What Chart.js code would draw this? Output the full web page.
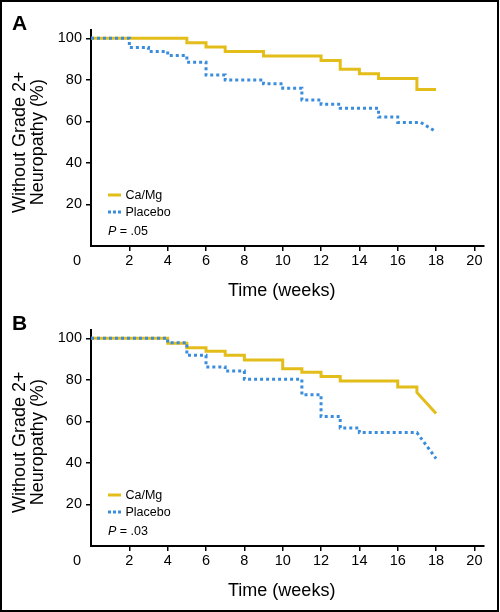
<!DOCTYPE html>
<html><head><meta charset="utf-8">
<script src="https://cdn.jsdelivr.net/npm/chart.js@4/dist/chart.umd.min.js"></script>
<style>
html,body{margin:0;padding:0;background:#fff;}
#wrap{position:relative;width:500px;height:612px;overflow:hidden;background:#fff;}
canvas{position:absolute;left:0;}
#frame{position:absolute;left:0;top:0;width:499px;height:612px;box-sizing:border-box;border:2px solid #000;pointer-events:none;}
</style></head><body>
<div id="wrap">
<canvas id="cA" width="500" height="300" style="top:0;width:500px;height:300px"></canvas>
<canvas id="cB" width="500" height="300" style="top:300px;width:500px;height:300px"></canvas>
<div id="frame"></div>
</div>
<script>
// ---- data ----
const xTicks = [2,4,6,8,10,12,14,16,18,20];
const yTicks = [20,40,60,80,100];
const seriesNames = ['Ca/Mg','Placebo'];
const panelLabels = ['A','B'];
const pValues = ['.05','.03'];

// Panel A
const caMgA_weeks = [0,5,6,7,9,12,13,14,15,17];
const caMgA_pct   = [100,97.9,95.8,93.6,91.5,89.3,85.1,82.9,80.6,75.3];
const caMgA_endWeeks = [18];
const caMgA_endPct   = [75.3];
const placeboA_weeks = [0,2,3,4,5,6,7,9,10,11,12,13,15,16];
const placeboA_pct   = [100,95.6,93.6,91.7,88.5,82.3,79.9,78.1,76.0,70.3,68.3,66.3,62.1,59.5];
const placeboA_endWeeks = [17.2,18];
const placeboA_endPct   = [59.5,55.0];

// Panel B
const caMgB_weeks = [0,4,5,6,7,8,10,11,12,13,16,17];
const caMgB_pct   = [100,97.6,95.5,93.8,91.8,89.6,85.4,83.7,81.6,79.5,76.6,73.9];
const caMgB_endWeeks = [18];
const caMgB_endPct   = [63.8];
const placeboB_weeks = [0,4,5,6,7,8,11,12,13,14];
const placeboB_pct   = [100,97.9,91.8,86.2,84.2,80.3,72.8,62.3,56.8,54.6];
const placeboB_endWeeks = [17,18];
const placeboB_endPct   = [54.6,42.1];

// ---- styling ----
const YELLOW = '#e3bd1a';
const BLUE = '#3a8ddd';
const FONT = '"Liberation Sans", Arial, Helvetica, sans-serif';
const TICK_SIZE = 14.5;

function kmPoints(weeks, pct, endWeeks, endPct){
  const pts = [];
  for (let i = 0; i < weeks.length; i++){
    if (i > 0) pts.push({x: weeks[i], y: pct[i-1]});
    pts.push({x: weeks[i], y: pct[i]});
  }
  for (let j = 0; j < endWeeks.length; j++) pts.push({x: endWeeks[j], y: endPct[j]});
  return pts;
}

function makeDecor(letter, pText){
  return {
    id: 'decor',
    afterDraw(chart){
      const ctx = chart.ctx;
      const xs = chart.scales.x, ys = chart.scales.y;
      const ca = chart.chartArea;
      ctx.save();
      ctx.fillStyle = '#000';
      // panel letter
      ctx.font = 'bold 21px ' + FONT;
      ctx.textAlign = 'left'; ctx.textBaseline = 'alphabetic';
      ctx.fillText(letter, 12, 30);
      // shared origin "0"
      ctx.font = TICK_SIZE + 'px ' + FONT;
      ctx.textAlign = 'center'; ctx.textBaseline = 'middle';
      ctx.fillText('0', xs.getPixelForValue(0) - 14, xs.top + 5 + 1 + TICK_SIZE*1.2/2);
      // x title
      ctx.font = '18px ' + FONT;
      ctx.textAlign = 'center'; ctx.textBaseline = 'alphabetic';
      ctx.fillText('Time (weeks)', xs.getPixelForValue(10) - 1, 296);
      // y title (two lines)
      const cy = ys.getPixelForValue(50);
      ctx.save();
      ctx.translate(20, cy); ctx.rotate(-Math.PI/2);
      ctx.textBaseline = 'middle';
      ctx.fillText('Without Grade 2+', 0, 0);
      ctx.restore();
      ctx.save();
      ctx.translate(38.5, cy); ctx.rotate(-Math.PI/2);
      ctx.textBaseline = 'middle';
      ctx.fillText('Neuropathy (%)', 0, 0);
      ctx.restore();
      // legend
      const lx = ca.left + 17;
      ctx.lineWidth = 3;
      ctx.strokeStyle = YELLOW;
      ctx.setLineDash([]);
      ctx.beginPath(); ctx.moveTo(lx, 195); ctx.lineTo(lx + 13, 195); ctx.stroke();
      ctx.strokeStyle = BLUE;
      ctx.setLineDash([3,2]);
      ctx.beginPath(); ctx.moveTo(lx, 212); ctx.lineTo(lx + 13, 212); ctx.stroke();
      ctx.setLineDash([]);
      ctx.font = '12.5px ' + FONT;
      ctx.textAlign = 'left'; ctx.textBaseline = 'middle';
      ctx.fillText(seriesNames[0], lx + 17.5, 196);
      ctx.fillText(seriesNames[1], lx + 17.5, 213);
      ctx.font = 'italic 12.5px ' + FONT;
      ctx.fillText('P', lx, 231.5);
      const pw = ctx.measureText('P').width;
      ctx.font = '12.5px ' + FONT;
      ctx.fillText(' = ' + pText, lx + pw, 231.5);
      ctx.restore();
    }
  };
}

function makeChart(id, caPts, plPts, letter, pText){
  return new Chart(document.getElementById(id), {
    type: 'line',
    data: { datasets: [
      { label: seriesNames[1], data: plPts, borderColor: BLUE, borderWidth: 3, borderDash: [3,3],
        borderCapStyle: 'butt', borderJoinStyle: 'miter', pointRadius: 0, fill: false, tension: 0, order: 0 },
      { label: seriesNames[0], data: caPts, borderColor: YELLOW, borderWidth: 3,
        borderCapStyle: 'butt', borderJoinStyle: 'miter', pointRadius: 0, fill: false, tension: 0, order: 1 }
    ]},
    options: {
      responsive: false, animation: false, devicePixelRatio: 1,
      layout: { padding: { top: 30, right: 16, left: 0, bottom: 0 } },
      plugins: { legend: { display: false }, tooltip: { enabled: false }, title: { display: false } },
      scales: {
        x: {
          type: 'linear', min: 0, max: 20.5,
          afterBuildTicks: s => { s.ticks = xTicks.map(v => ({ value: v })); },
          afterFit: s => { s.height = 54; },
          grid: { display: true, drawOnChartArea: false, drawTicks: true, tickLength: 5, color: '#000', lineWidth: 1.5 },
          border: { display: true, color: '#000', width: 2 },
          ticks: { font: { family: FONT, size: TICK_SIZE }, color: '#000', padding: 1, maxRotation: 0, autoSkip: false }
        },
        y: {
          type: 'linear', min: 0, max: 104,
          afterBuildTicks: s => { s.ticks = yTicks.map(v => ({ value: v })); },
          afterFit: s => { s.width = 91; },
          grid: { display: true, drawOnChartArea: false, drawTicks: true, tickLength: 5, color: '#000', lineWidth: 1.5 },
          border: { display: true, color: '#000', width: 2 },
          ticks: { font: { family: FONT, size: TICK_SIZE }, color: '#000', padding: 4, autoSkip: false }
        }
      }
    },
    plugins: [makeDecor(letter, pText)]
  });
}

makeChart('cA',
  kmPoints(caMgA_weeks, caMgA_pct, caMgA_endWeeks, caMgA_endPct),
  kmPoints(placeboA_weeks, placeboA_pct, placeboA_endWeeks, placeboA_endPct),
  panelLabels[0], pValues[0]);
makeChart('cB',
  kmPoints(caMgB_weeks, caMgB_pct, caMgB_endWeeks, caMgB_endPct),
  kmPoints(placeboB_weeks, placeboB_pct, placeboB_endWeeks, placeboB_endPct),
  panelLabels[1], pValues[1]);
</script>
</body></html>
